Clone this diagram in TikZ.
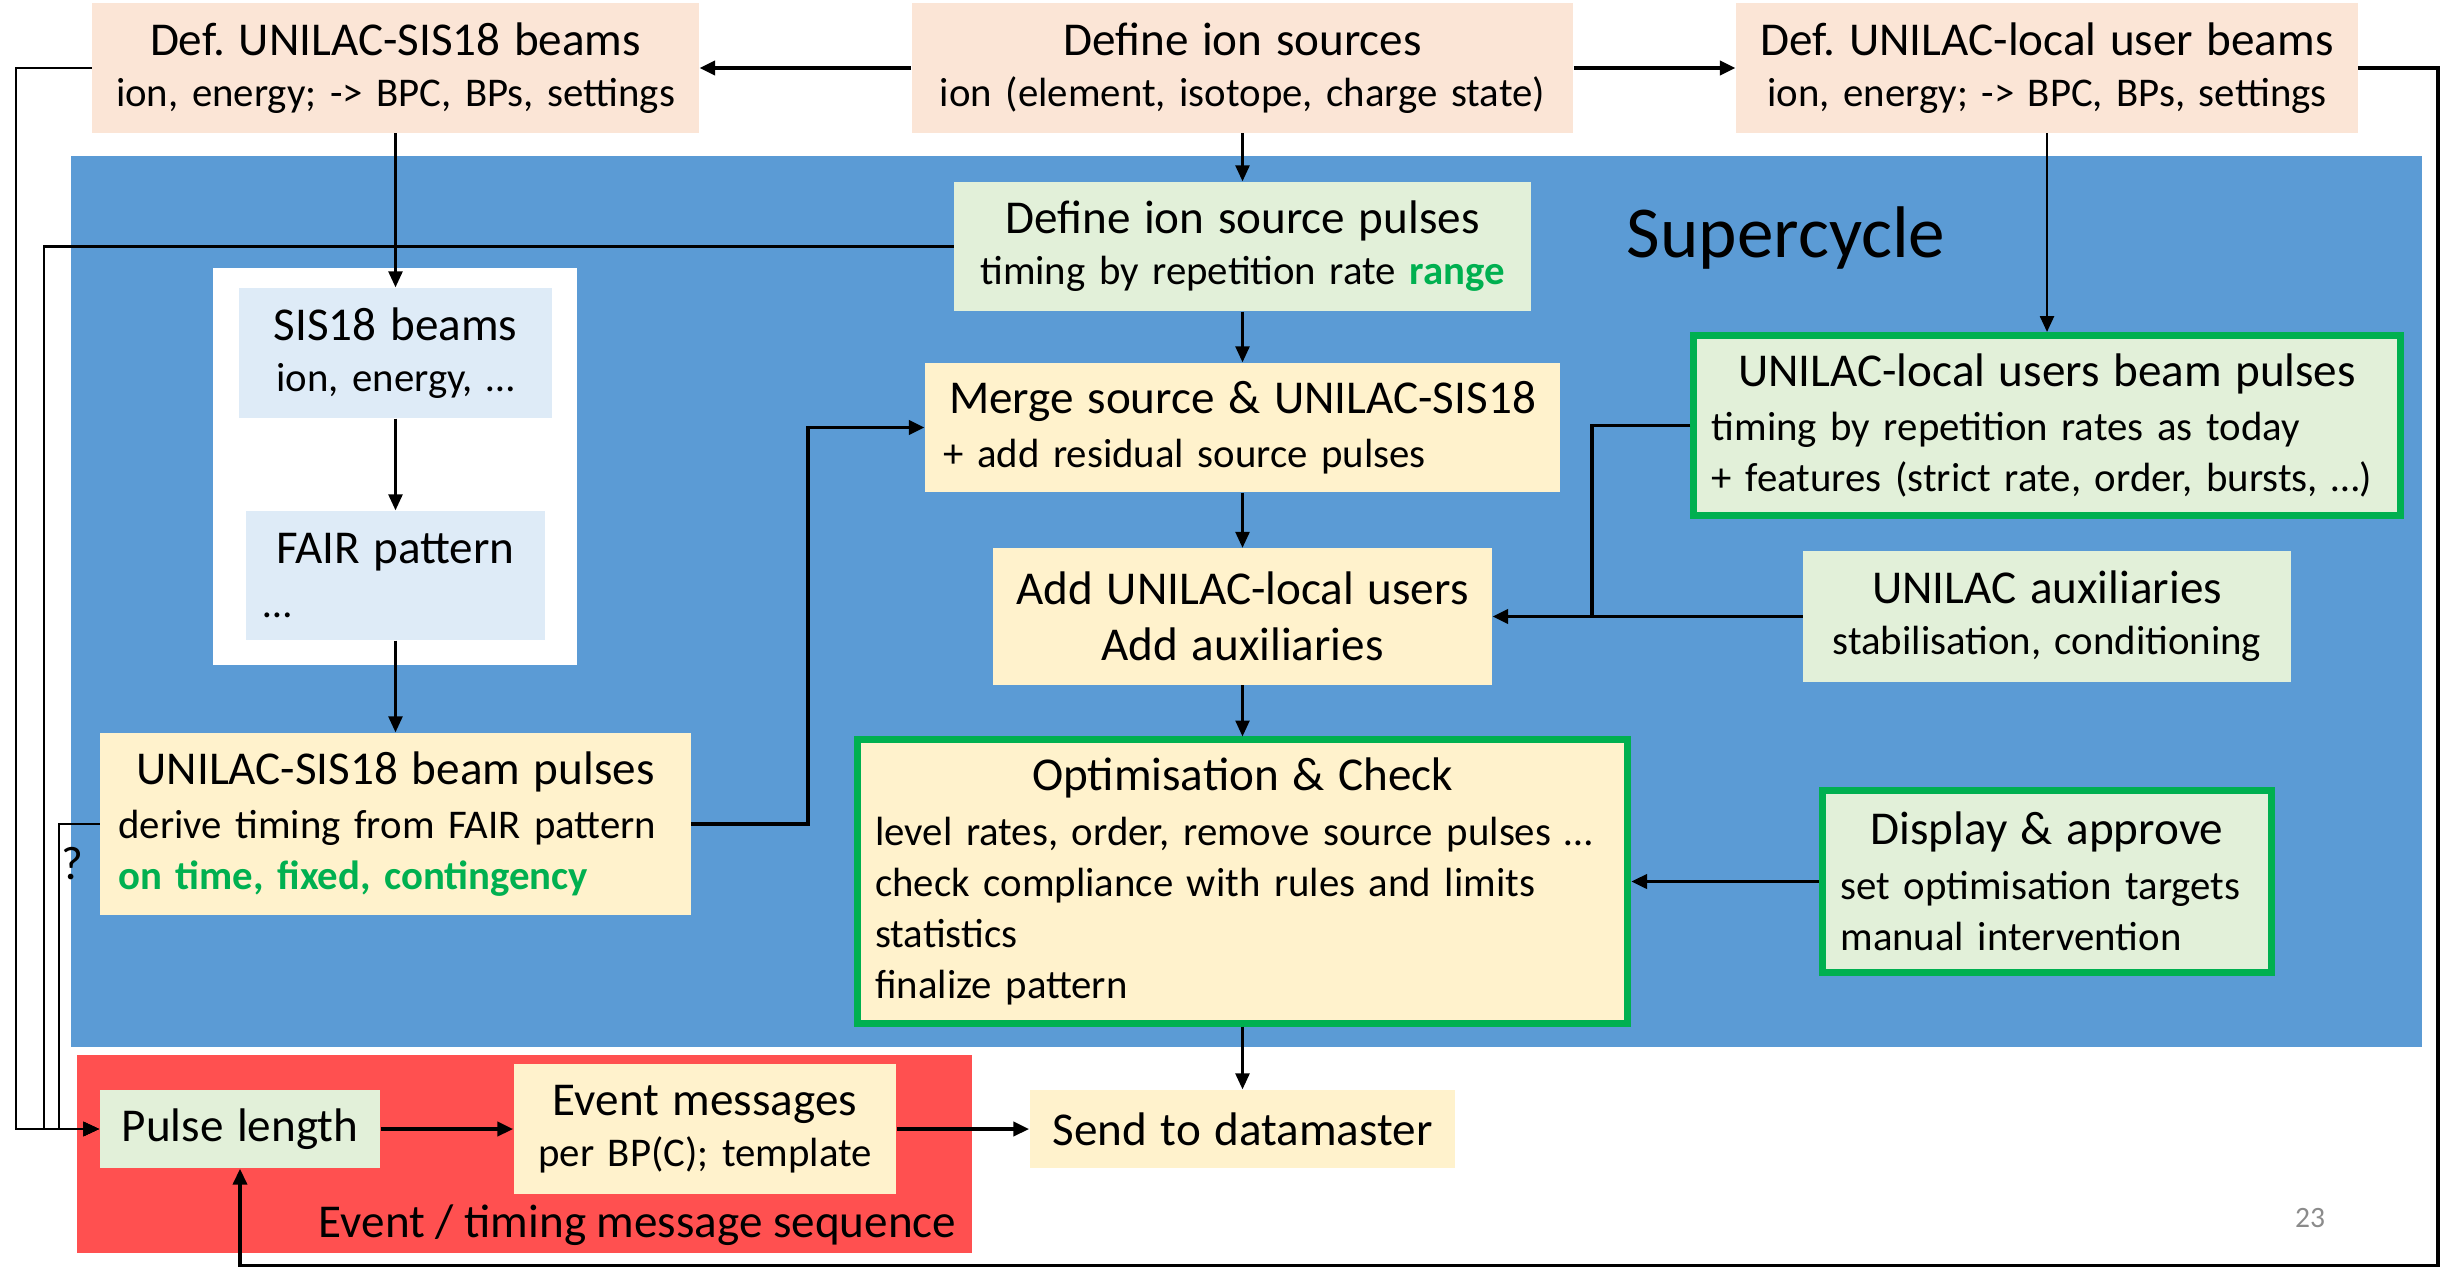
\documentclass[tikz,border=0pt]{standalone}
\usepackage{fontspec}
\setmainfont{Carlito}
\usepackage{xcolor}
\usepackage{tikz}
\usetikzlibrary{arrows.meta}
\frenchspacing

\definecolor{boxsalmon}{HTML}{FBE5D6}
\definecolor{boxgreen}{HTML}{E2F0D9}
\definecolor{boxyellow}{HTML}{FFF2CC}
\definecolor{boxblue}{HTML}{DEEBF7}
\definecolor{cyclebg}{HTML}{5B9BD5}
\definecolor{seqred}{HTML}{FF5050}
\definecolor{okgreen}{HTML}{00B050}
\definecolor{pagegray}{HTML}{8B8B8B}

\newcommand{\hd}[1]{{\fontsize{13.4}{15.5}\selectfont #1}}
\newcommand{\hdc}[2]{\centerline{\hd{#1}}\vskip1pt\leftskip=0.13cm\noindent #2\par}
\newcommand{\ok}[1]{\textcolor{okgreen}{\bfseries #1}}

\tikzset{
  box/.style={inner xsep=0.05cm, inner ysep=0pt, align=center, font=\fontsize{11.6}{14.5}\selectfont},
  lbox/.style={box, align=left},
  framed/.style={draw=okgreen, line width=2pt},
  wire/.style={line width=0.6pt},
  lwire/.style={line width=0.7pt},
  rwire/.style={line width=0.9pt},
  fat/.style={line width=1.1pt}
}

\begin{document}
\begin{tikzpicture}[x=0.01cm, y=-0.01cm, >={Triangle[length=4.5pt,width=4pt]}]
  \useasboundingbox (0,0) rectangle (2458,1267);
  \fill[cyclebg] (71,156) rectangle (2422,1047);
  \fill[white] (213,268) rectangle (577,665);
  \fill[seqred] (77,1055) rectangle (972,1253);

  \node[box, fill=boxsalmon, text width=5.96cm, minimum height=1.29cm] (defsis) at (395.5,68)
    {\hd{Def. UNILAC-SIS18 beams}\\ ion, energy; -> BPC, BPs, settings};
  \node[box, fill=boxsalmon, text width=6.51cm, minimum height=1.29cm] (srcdef) at (1242.5,68)
    {\hd{Define ion sources}\\ ion (element, isotope, charge state)};
  \node[box, fill=boxsalmon, text width=6.11cm, minimum height=1.29cm] (deflocal) at (2047,68)
    {\hd{Def. UNILAC-local user beams}\\ ion, energy; -> BPC, BPs, settings};

  \node[box, fill=boxgreen, text width=5.66cm, minimum height=1.29cm] (srcpulse) at (1242.5,246.5)
    {\hd{Define ion source pulses}\\ timing by repetition rate \ok{range}};
  \node[box, fill=boxblue, text width=3.03cm, minimum height=1.30cm] (sisbeams) at (395.5,353)
    {\hd{SIS18 beams}\\ ion, energy, …};
  \node[lbox, fill=boxblue, text width=2.89cm, minimum height=1.29cm] (fair) at (395.5,575.5)
    {\hdc{FAIR pattern}{…}};
  \node[lbox, fill=boxyellow, text width=5.80cm, minimum height=1.82cm] (sispulse) at (395.5,824)
    {\hdc{UNILAC-SIS18 beam pulses}{derive timing from FAIR pattern\\ \ok{on time, fixed, contingency}}};
  \node[lbox, fill=boxyellow, text width=6.24cm, minimum height=1.29cm] (merge) at (1242.5,427.5)
    {\hdc{Merge source \& UNILAC-SIS18}{+ add residual source pulses}};
  \node[box, fill=boxyellow, text width=4.88cm, minimum height=1.36cm] (adduser) at (1242.5,616.5)
    {\hd{Add UNILAC-local users}\\[1.5pt] \hd{Add auxiliaries}};
  \node[lbox, framed, fill=boxgreen, text width=6.96cm, minimum height=1.80cm] (localpulse) at (2047,425.5)
    {\hdc{UNILAC-local users beam pulses}{timing by repetition rates as today\\ + features (strict rate, order, bursts, …)}};
  \node[box, fill=boxgreen, text width=4.77cm, minimum height=1.30cm] (aux) at (2047,616.5)
    {\hd{UNILAC auxiliaries}\\ stabilisation, conditioning};
  \node[lbox, framed, fill=boxyellow, text width=7.60cm, minimum height=2.83cm] (optim) at (1242.5,881.5)
    {\hdc{Optimisation \& Check}{level rates, order, remove source pulses …\\ check compliance with rules and limits\\ statistics\\ finalize pattern}};
  \node[lbox, framed, fill=boxgreen, text width=4.39cm, minimum height=1.81cm] (display) at (2047,881.5)
    {\hdc{Display \& approve}{set optimisation targets\\ manual intervention}};

  \node[box, fill=boxgreen, text width=2.70cm, minimum height=0.78cm] (pulselen) at (240,1129)
    {\hd{Pulse length}};
  \node[box, fill=boxyellow, text width=3.72cm, minimum height=1.29cm] (eventmsg) at (705,1129)
    {\hd{Event messages}\\ per BP(C); template};
  \node[box, fill=boxyellow, text width=4.15cm, minimum height=0.78cm] (send) at (1242.5,1129)
    {\hd{Send to datamaster}};

  \node[anchor=base, inner sep=0pt, font=\fontsize{20.8}{24}\selectfont] (title) at (1786,258) {Supercycle};
  \node[anchor=base east, inner sep=0pt, font=\fontsize{13.4}{15.5}\selectfont] (seqlabel) at (957,1237) {Event / timing message sequence};
  \node[anchor=base, inner sep=0pt, font=\fontsize{13.4}{15.5}\selectfont] (qmark) at (72,879) {?};
  \node[anchor=base, inner sep=0pt, font=\fontsize{8.4}{10}\selectfont, text=pagegray] (pagenum) at (2310,1227) {23};

  \coordinate (lx1) at (16,0);
  \coordinate (lx2) at (44,0);
  \coordinate (lx3) at (59,0);
  \coordinate (mx) at (808,0);
  \coordinate (jn) at (1592,616.5);
  \coordinate (rx) at (2438,0);
  \coordinate (by) at (0,1266);

  \draw[->,fat] (srcdef) -- (defsis);
  \draw[->,fat] (srcdef) -- (deflocal);
  \draw[->,wire] (defsis) -- (sisbeams);
  \draw[->,wire] (sisbeams) -- (fair);
  \draw[->,wire] (fair) -- (sispulse);
  \draw[->,wire] (srcdef) -- (srcpulse);
  \draw[->,wire] (srcpulse) -- (merge);
  \draw[->,wire] (merge) -- (adduser);
  \draw[->,wire] (adduser) -- (optim);
  \draw[->,wire] (optim) -- (send);
  \draw[->,wire] (deflocal) -- (localpulse);
  \draw[fat] (localpulse.west) -| (jn);
  \draw[->,fat] (aux) -- (adduser);
  \draw[->,fat] (display) -- (optim);
  \draw[->,fat] (sispulse.east) -| (mx |- merge.west) -- (merge.west);
  \draw[->,lwire] (defsis.west) -| (lx1 |- pulselen.west) -- (pulselen.west);
  \draw[->,lwire] (srcpulse.west) -| (lx2 |- pulselen.west) -- (pulselen.west);
  \draw[->,lwire] (sispulse.west) -| (lx3 |- pulselen.west) -- (pulselen.west);
  \draw[->,rwire] (deflocal.east) -| (rx |- by) -| (pulselen.south);
  \draw[->,fat] (pulselen) -- (eventmsg);
  \draw[->,fat] (eventmsg) -- (send);
\end{tikzpicture}
\end{document}
